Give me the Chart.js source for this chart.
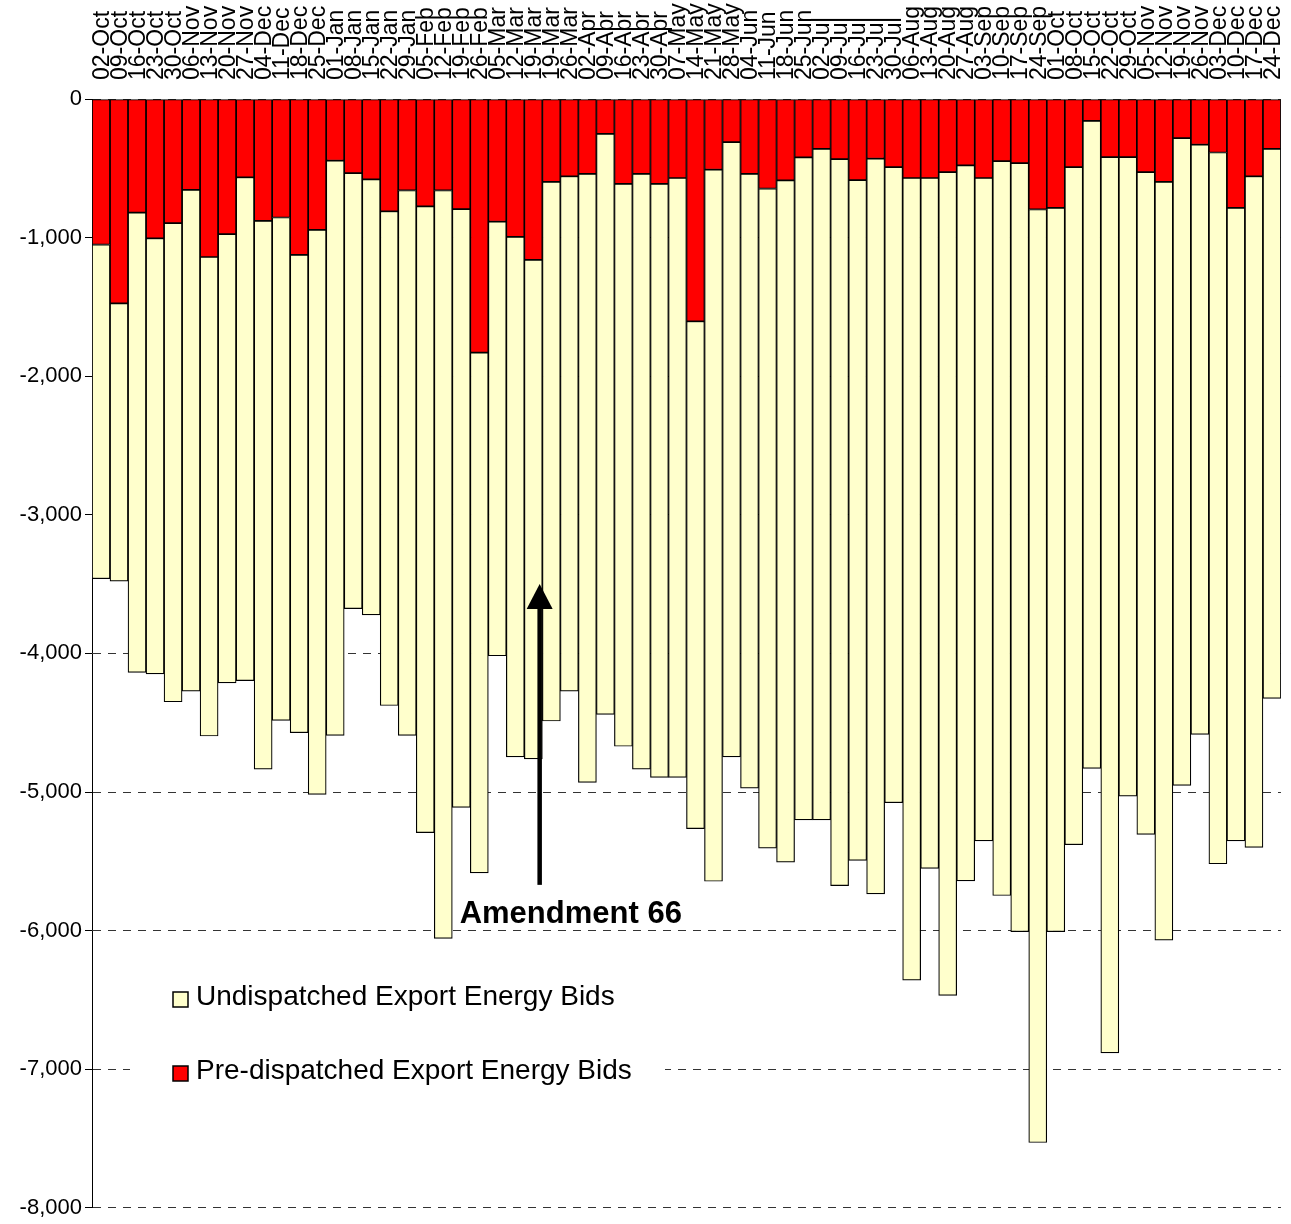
<!DOCTYPE html>
<html>
<head>
<meta charset="utf-8">
<title>Export Energy Bids</title>
<script src="https://cdn.jsdelivr.net/npm/chart.js@4.4.0/dist/chart.umd.min.js"></script>
<style>
    html, body { margin: 0; padding: 0; background: #fff; }
    .chart-container { position: relative; width: 1291px; height: 1224px; }
</style>
</head>
<body>
<div class="chart-container">
    <canvas id="bidsChart"></canvas>
</div>
<script>
// Week labels (the 19-Mar week appears twice in the source)
const weeks = [
    '02-Oct', '09-Oct', '16-Oct', '23-Oct', '30-Oct', '06-Nov', '13-Nov', '20-Nov', '27-Nov',
    '04-Dec', '11-Dec', '18-Dec', '25-Dec', '01-Jan', '08-Jan', '15-Jan', '22-Jan', '29-Jan',
    '05-Feb', '12-Feb', '19-Feb', '26-Feb', '05-Mar', '12-Mar', '19-Mar', '19-Mar', '26-Mar',
    '02-Apr', '09-Apr', '16-Apr', '23-Apr', '30-Apr', '07-May', '14-May', '21-May', '28-May',
    '04-Jun', '11-Jun', '18-Jun', '25-Jun', '02-Jul', '09-Jul', '16-Jul', '23-Jul', '30-Jul',
    '06-Aug', '13-Aug', '20-Aug', '27-Aug', '03-Sep', '10-Sep', '17-Sep', '24-Sep', '01-Oct',
    '08-Oct', '15-Oct', '22-Oct', '29-Oct', '05-Nov', '12-Nov', '19-Nov', '26-Nov', '03-Dec',
    '10-Dec', '17-Dec', '24-Dec'
];

// Pre-dispatched export energy bids (red, drawn from zero)
const preDispatched = [
    -1050, -1475, -820, -1005, -895, -655, -1140, -975, -565,
    -880, -855, -1125, -945, -445, -535, -580, -810, -660,
    -775, -660, -795, -1830, -885, -995, -1160, -598, -558,
    -541, -251, -613, -541, -613, -570, -1604, -510, -311,
    -541, -646, -587, -421, -359, -433, -585, -431, -491,
    -570, -570, -527, -479, -570, -448, -462, -797, -785,
    -491, -158, -419, -419, -527, -598, -282, -330, -386,
    -785, -558, -359
];

// Undispatched export energy bids (pale yellow, stacked below the red part)
const undispatched = [
    -2411, -2003, -3317, -3143, -3454, -3618, -3456, -3238, -3631,
    -3955, -3629, -3447, -4072, -4146, -3142, -3142, -3566, -3931,
    -4518, -5396, -4316, -3754, -3132, -3752, -3601, -3890, -3715,
    -4390, -4189, -4057, -4294, -4282, -4325, -3660, -5134, -4436,
    -4431, -4759, -4919, -4780, -4842, -5242, -4909, -5304, -4586,
    -5788, -4981, -5941, -5163, -4783, -5299, -5546, -6732, -5223,
    -4889, -4671, -6463, -4611, -4779, -5471, -4671, -4254, -5132,
    -4568, -4841, -3966
];

// Value axis
const yMin = -8000;
const yMax = 0;
const yStep = 1000;

// Annotation: arrow sits between the two 19-Mar weeks
const annotationText = 'Amendment 66';
const arrowIndex = 24.35;
const arrowTip = -3500;
const arrowTail = -5670;
const annotationTextAt = -5880;

const FONT = '"Liberation Sans", Arial, Helvetica, sans-serif';

document.addEventListener('DOMContentLoaded', function() {
    initChart();

    function initChart() {
        const ctx = document.getElementById('bidsChart').getContext('2d');

        if (typeof Chart === 'undefined') return;

        // Legend drawn inside the plot, with a white box over the gridlines
        const insideLegend = {
            id: 'insideLegend',
            afterDatasetsDraw(chart) {
                const c = chart.ctx;
                const area = chart.chartArea;
                const items = [chart.data.datasets[1], chart.data.datasets[0]];
                const boxX = area.left + 38;
                const boxY = 958;

                c.save();
                c.fillStyle = '#ffffff';
                c.fillRect(boxX, boxY, 535, 150);

                items.forEach(function(ds, i) {
                    const rowY = 999 + i * 74;
                    c.fillStyle = ds.backgroundColor;
                    c.fillRect(area.left + 81, rowY - 7, 15, 15);
                    c.strokeStyle = '#000';
                    c.lineWidth = 1.5;
                    c.strokeRect(area.left + 81, rowY - 7, 15, 15);

                    c.fillStyle = '#000';
                    c.font = '28px ' + FONT;
                    c.textAlign = 'left';
                    c.textBaseline = 'middle';
                    c.fillText(ds.label, area.left + 104, rowY - 2);
                });
                c.restore();
            }
        };

        // Arrow and label marking the amendment
        const amendmentArrow = {
            id: 'amendmentArrow',
            afterDatasetsDraw(chart) {
                const c = chart.ctx;
                const x = chart.scales.x;
                const y = chart.scales.y;
                const ax = x.getPixelForValue(arrowIndex);
                const tipY = y.getPixelForValue(arrowTip);
                const tailY = y.getPixelForValue(arrowTail);

                c.save();
                c.fillStyle = '#000';
                c.fillRect(ax - 2.25, tipY + 20, 4.5, tailY - tipY - 20);
                c.beginPath();
                c.moveTo(ax, tipY);
                c.lineTo(ax + 13, tipY + 25);
                c.lineTo(ax - 13, tipY + 25);
                c.closePath();
                c.fill();

                c.font = 'bold 31px ' + FONT;
                c.textAlign = 'left';
                c.textBaseline = 'middle';
                c.fillText(annotationText, ax - 80, y.getPixelForValue(annotationTextAt));
                c.restore();
            }
        };

        new Chart(ctx, {
            type: 'bar',
            data: {
                labels: weeks,
                datasets: [
                    {
                        label: 'Pre-dispatched Export Energy Bids',
                        data: preDispatched,
                        backgroundColor: '#ff0000',
                        borderColor: '#000000',
                        borderWidth: 1.2,
                        borderSkipped: false,
                        categoryPercentage: 1,
                        barPercentage: 1
                    },
                    {
                        label: 'Undispatched Export Energy Bids',
                        data: undispatched,
                        backgroundColor: '#ffffcc',
                        borderColor: '#000000',
                        borderWidth: 1.2,
                        borderSkipped: false,
                        categoryPercentage: 1,
                        barPercentage: 1
                    }
                ]
            },
            options: {
                responsive: true,
                maintainAspectRatio: false,
                animation: false,
                locale: 'en-US',
                layout: {
                    padding: { left: 0, right: 7, top: 0, bottom: 11 }
                },
                plugins: {
                    legend: { display: false },
                    tooltip: { enabled: false }
                },
                scales: {
                    x: {
                        position: 'top',
                        stacked: true,
                        offset: true,
                        grid: { display: false, drawTicks: false },
                        border: { display: false },
                        ticks: {
                            autoSkip: false,
                            minRotation: 90,
                            maxRotation: 90,
                            padding: 19,
                            labelOffset: 29,
                            color: '#000',
                            font: { family: FONT, size: 23 }
                        },
                        afterFit: function(scale) {
                            scale.height = 99;
                        }
                    },
                    y: {
                        stacked: true,
                        min: yMin,
                        max: yMax,
                        ticks: {
                            stepSize: yStep,
                            padding: 3,
                            color: '#000',
                            font: { family: FONT, size: 22 }
                        },
                        grid: {
                            color: '#333333',
                            lineWidth: 1,
                            tickLength: 7,
                            tickColor: '#000',
                            tickBorderDash: []
                        },
                        border: {
                            display: true,
                            color: '#000',
                            width: 1,
                            dash: [8, 7]
                        },
                        afterFit: function(scale) {
                            scale.width = 92;
                        }
                    }
                }
            },
            plugins: [insideLegend, amendmentArrow]
        });
    }
});
</script>
</body>
</html>
